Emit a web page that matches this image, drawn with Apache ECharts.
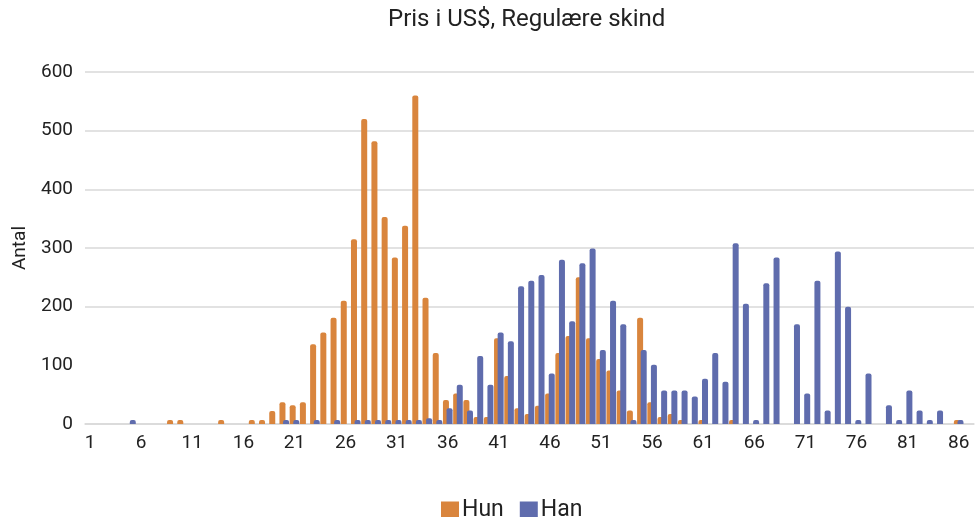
<!DOCTYPE html>
<html>
<head>
<meta charset="utf-8">
<script src="https://cdn.jsdelivr.net/npm/echarts@6/dist/echarts.min.js"></script>
<style>html,body{margin:0;padding:0;background:#fff}#c{width:977px;height:517px}</style>
</head>
<body>
<div id="c"></div>
<script>
// Categories 1..87
const categories = [];
for (let i = 1; i <= 87; i++) categories.push(String(i));

const hun = [
  0,0,0,0,0,0,0,0,7,7,
  0,0,0,7,0,0,7,7,22,37,
  32,37,136,156,181,210,315,520,482,353,
  284,338,560,215,121,41,52,41,12,12,
  146,82,27,17,31,52,121,150,250,146,
  111,91,57,23,181,37,12,17,7,0,
  7,0,0,7,0,0,0,0,0,0,
  0,0,0,0,0,0,0,0,0,0,
  0,0,0,0,0,7,0
];
const han = [
  0,0,0,0,7,0,0,0,0,0,
  0,0,0,0,0,0,0,0,0,7,
  7,0,7,0,7,0,7,7,7,7,
  7,7,7,10,7,27,67,23,116,67,
  156,141,235,244,254,86,280,175,274,299,
  126,210,170,7,126,101,57,57,57,47,
  77,121,72,308,205,7,240,284,0,170,
  52,244,23,294,200,7,86,0,32,7,
  57,23,7,23,0,7,0
];
const yTicks = [0, 100, 200, 300, 400, 500, 600];

const FONT = 'Roboto';
const chart = echarts.init(document.getElementById('c'), null, {renderer: 'canvas'});
chart.setOption({
  animation: false,
  title: {
    text: 'Pris i US$, Regulære skind',
    left: 388, top: 8, padding: 0,
    textStyle: {fontFamily: FONT, fontSize: 24, fontWeight: 'normal', color: '#222'}
  },
  legend: {
    left: 441, top: 499, padding: 0,
    itemWidth: 18, itemHeight: 18, itemGap: 16,
    icon: 'rect',
    textStyle: {fontFamily: FONT, fontSize: 23, color: '#222', padding: [0, 0, 0, -2]},
    data: ['Hun', 'Han']
  },
  grid: {left: 85, right: 3, top: 72, bottom: 93, containLabel: false},
  xAxis: {
    type: 'category',
    data: categories,
    axisTick: {show: false},
    axisLine: {lineStyle: {color: '#d9d9d9', width: 1.5}},
    axisLabel: {interval: 4, fontFamily: FONT, fontSize: 19, color: '#222', margin: 10}
  },
  yAxis: {
    type: 'value',
    min: yTicks[0], max: yTicks[yTicks.length - 1], interval: 100,
    name: 'Antal', nameLocation: 'middle', nameGap: 55, nameRotate: 90,
    nameTextStyle: {fontFamily: FONT, fontSize: 19, color: '#222'},
    axisLine: {show: false}, axisTick: {show: false},
    axisLabel: {fontFamily: FONT, fontSize: 19, color: '#222', margin: 12},
    splitLine: {lineStyle: {color: ['#d9d9d9', 'rgba(0,0,0,0)', '#d9d9d9', '#d9d9d9', '#d9d9d9', '#d9d9d9', '#d9d9d9'], width: 1.5}}
  },
  series: [
    {name: 'Hun', type: 'bar', data: hun, barWidth: 6, barGap: '-40%',
     itemStyle: {color: '#D9853D', borderRadius: [2, 2, 0, 0]}},
    {name: 'Han', type: 'bar', data: han, barWidth: 6,
     itemStyle: {color: '#5F6CAD', borderRadius: [2, 2, 0, 0]}}
  ]
});
</script>
</body>
</html>
